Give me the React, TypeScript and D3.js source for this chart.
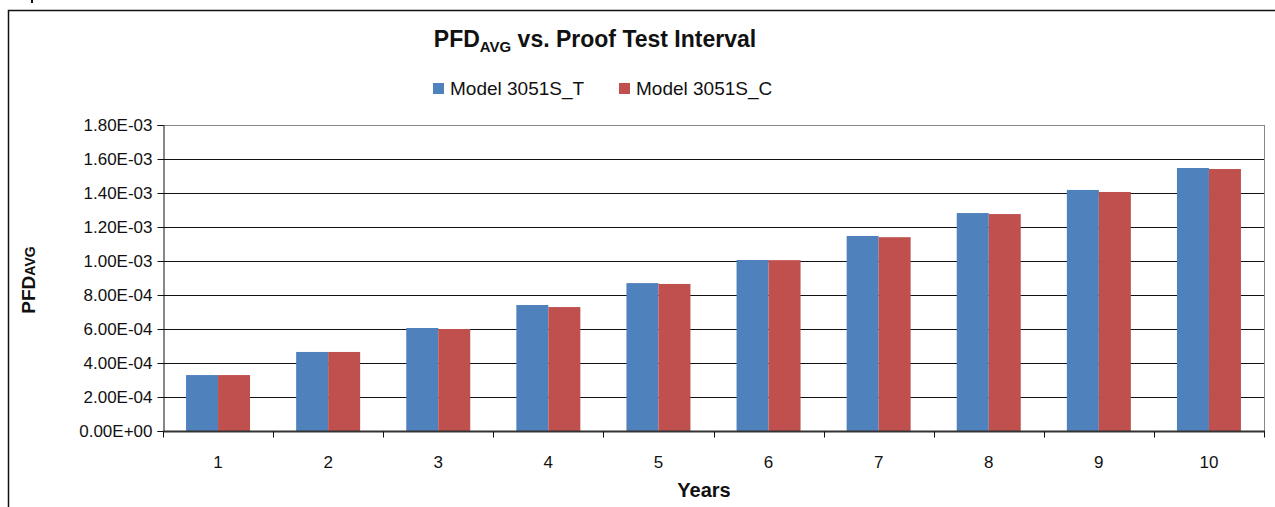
import React, { useEffect, useRef } from "react";
import * as d3 from "d3";

const years = ["1", "2", "3", "4", "5", "6", "7", "8", "9", "10"];
const model3051ST = [3.29e-4, 4.65e-4, 6.06e-4, 7.41e-4, 8.7e-4, 1.006e-3, 1.147e-3, 1.282e-3, 1.418e-3, 1.547e-3];
const model3051SC = [3.29e-4, 4.65e-4, 6.0e-4, 7.29e-4, 8.65e-4, 1.005e-3, 1.14e-3, 1.276e-3, 1.406e-3, 1.541e-3];
const seriesNames = ["Model 3051S_T", "Model 3051S_C"];
const seriesColors = ["#4f81bd", "#c0504d"];
const yTicks = [0, 2e-4, 4e-4, 6e-4, 8e-4, 1e-3, 1.2e-3, 1.4e-3, 1.6e-3, 1.8e-3];

const W = 1275, H = 507;

export default function App() {
  const ref = useRef<SVGSVGElement>(null);

  useEffect(() => {
    const svg = d3.select(ref.current);
    svg.selectAll("*").remove();
    const font = "Arial, 'Liberation Sans', sans-serif";

    const margin = { top: 125, right: 11, bottom: 76, left: 163 };
    const width = W - margin.left - margin.right;
    const height = H - margin.top - margin.bottom;

    // outer frame (cut off on right and bottom)
    svg.append("path")
      .attr("d", `M8.5,${H} V10.5 H${W}`)
      .attr("fill", "none")
      .attr("stroke", "#111")
      .attr("stroke-width", 1.5);
    svg.append("rect").attr("x", 31).attr("y", 0).attr("width", 2).attr("height", 3).attr("fill", "#111");

    const x = d3.scaleBand().domain(years).range([0, width]);
    const inner = d3.scaleBand().domain(seriesNames).range([0, 64]);
    const y = d3.scaleLinear().domain([0, 1.8e-3]).range([height, 0]);

    const g = svg.append("g").attr("transform", `translate(${margin.left},${margin.top})`);

    // gridlines
    g.append("g")
      .selectAll("line")
      .data(yTicks.slice(1))
      .join("line")
      .attr("x1", 0)
      .attr("x2", width)
      .attr("y1", d => Math.round(y(d)) + 0.5)
      .attr("y2", d => Math.round(y(d)) + 0.5)
      .attr("stroke", d => (d === 1.8e-3 ? "#888" : "#111"))
      .attr("stroke-width", 1);

    // right border of plot area
    g.append("line")
      .attr("x1", width + 0.5).attr("x2", width + 0.5)
      .attr("y1", 0).attr("y2", height)
      .attr("stroke", "#888");

    // bars
    const data = [model3051ST, model3051SC];
    data.forEach((vals, si) => {
      g.append("g")
        .selectAll("rect")
        .data(vals)
        .join("rect")
        .attr("x", (d, i) => x(years[i])! + (x.bandwidth() - 64) / 2 + inner(seriesNames[si])!)
        .attr("y", d => y(d))
        .attr("width", inner.bandwidth())
        .attr("height", d => height - y(d))
        .attr("fill", seriesColors[si]);
    });

    // y axis
    const yAxis = g.append("g")
      .attr("transform", "translate(0.5,0)")
      .call(d3.axisLeft(y).tickValues(yTicks).tickSize(6).tickPadding(5)
        .tickFormat(d => (d as number).toExponential(2).replace(/e([+-])(\d)$/, "E$10$2").toUpperCase()));
    yAxis.select(".domain").attr("stroke", "#111");
    yAxis.selectAll(".tick line").attr("stroke", "#111");
    yAxis.selectAll("text").attr("font-family", font).attr("font-size", 17).attr("fill", "#111");

    // x axis
    const xAxis = g.append("g").attr("transform", `translate(0,${height + 0.5})`);
    xAxis.append("line")
      .attr("x1", 0).attr("x2", width + 1)
      .attr("stroke", "#333").attr("stroke-width", 2);
    xAxis.selectAll("line.tk")
      .data([...years.map(c => x(c)!), width])
      .join("line")
      .attr("class", "tk")
      .attr("x1", d => Math.round(d) + 0.5).attr("x2", d => Math.round(d) + 0.5)
      .attr("y1", 0).attr("y2", 6)
      .attr("stroke", "#111");
    xAxis.selectAll("text")
      .data(years)
      .join("text")
      .attr("x", d => x(d)! + x.bandwidth() / 2)
      .attr("y", 36)
      .attr("text-anchor", "middle")
      .attr("font-family", font).attr("font-size", 17).attr("fill", "#111")
      .text(d => d);

    // axis titles
    svg.append("text")
      .attr("x", 704).attr("y", 497)
      .attr("text-anchor", "middle")
      .attr("font-family", font).attr("font-size", 20).attr("font-weight", "bold").attr("fill", "#111")
      .text("Years");

    const yl = svg.append("text")
      .attr("transform", `translate(35,280) rotate(-90)`)
      .attr("text-anchor", "middle")
      .attr("font-family", font).attr("font-weight", "bold").attr("fill", "#111");
    yl.append("tspan").attr("font-size", 19).text("PFD");
    yl.append("tspan").attr("font-size", 14).text("AVG");

    // title
    const t = svg.append("text")
      .attr("x", 595).attr("y", 47)
      .attr("text-anchor", "middle")
      .attr("font-family", font).attr("font-weight", "bold").attr("fill", "#111");
    t.append("tspan").attr("font-size", 23).text("PFD");
    t.append("tspan").attr("font-size", 15).attr("dy", 5).text("AVG");
    t.append("tspan").attr("font-size", 23).attr("dy", -5).text(" vs. Proof Test Interval");

    // legend
    const legendX = [433, 619];
    seriesNames.forEach((n, i) => {
      const lg = svg.append("g").attr("transform", `translate(${legendX[i]},83)`);
      lg.append("rect").attr("width", 11).attr("height", 11).attr("fill", seriesColors[i]);
      lg.append("text")
        .attr("x", 17).attr("y", 12)
        .attr("font-family", font).attr("font-size", 19).attr("fill", "#111")
        .text(n);
    });
  }, []);

  return (
    <svg ref={ref} width={W} height={H}
      style={{ position: "absolute", left: 0, top: 0, background: "#fff" }} />
  );
}
